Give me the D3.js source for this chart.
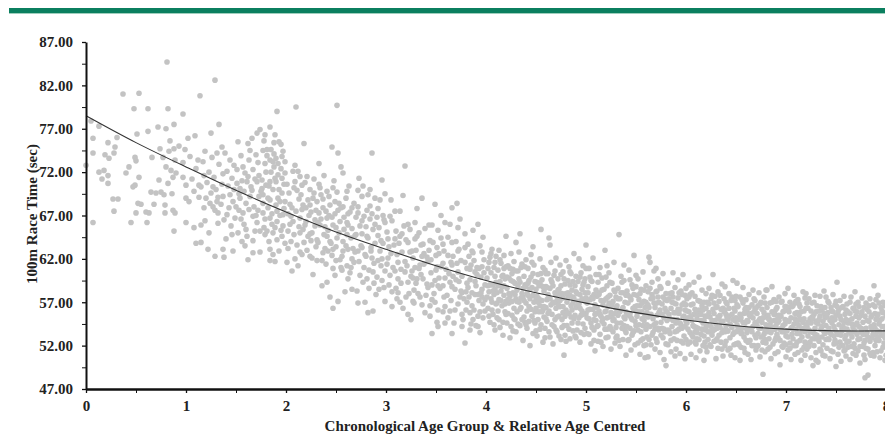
<!DOCTYPE html>
<html lang="en">
<head>
<meta charset="utf-8" />
<title>100m Race Time by Age</title>
<style>
  body { margin: 0; background: #fff; }
  svg { display: block; }
  .axis text { font-family: "Liberation Serif", "Times New Roman", serif; font-weight: bold; font-size: 15px; fill: #222; }
  .axis path, .axis line { stroke: #111; }
  .title { font-family: "Liberation Serif", "Times New Roman", serif; font-weight: bold; font-size: 15px; fill: #222; }
</style>
</head>
<body>
<svg width="885" height="434"></svg>
<script src="https://d3js.org/d3.v7.min.js"></script>
<script>
const yTicks = [47, 52, 57, 62, 67, 72, 77, 82, 87];
const yMinorTicks = [49.5, 54.5, 59.5, 64.5, 69.5, 74.5, 79.5, 84.5];
const xTicks = [0, 1, 2, 3, 4, 5, 6, 7, 8];
const xMinorTicks = [0.5, 1.5, 2.5, 3.5, 4.5, 5.5, 6.5, 7.5];

// fitted curve
const fitX = [0, 0.5, 1, 1.5, 2, 2.5, 3, 3.5, 4, 4.5, 5, 5.5, 6, 6.5, 7, 7.5, 8];
const fitY = [78.5, 75.4, 72.6, 69.9, 67.4, 65.1, 63.1, 61.2, 59.5, 58.1, 56.9, 55.8, 54.95, 54.3, 53.9, 53.7, 53.7];

// [age, time] per chronological age group
const age0 = [[0.00,72.8],[0.05,77.9],[0.07,75.9],[0.07,74.2],[0.07,66.2],[0.13,77.3],[0.13,72.0],[0.16,71.2],[0.18,72.2],[0.19,74.0],[0.22,75.4],[0.22,71.6],[0.22,70.7],[0.23,73.6],[0.27,68.9],[0.28,74.2],[0.28,67.5],[0.29,74.9],[0.31,76.0],[0.32,68.9],[0.37,81.0],[0.40,71.9],[0.43,72.6],[0.45,66.2],[0.47,70.3],[0.48,79.3],[0.49,73.7],[0.49,70.5],[0.50,73.3],[0.50,67.3],[0.51,76.4],[0.52,68.4],[0.53,81.1],[0.53,71.4],[0.55,68.3],[0.60,67.4],[0.61,66.2],[0.62,79.3],[0.62,76.7],[0.63,67.3],[0.65,69.7],[0.66,73.7],[0.68,68.3],[0.70,69.6],[0.72,77.2],[0.73,71.1],[0.74,74.7],[0.75,69.7],[0.77,73.7],[0.78,69.4],[0.79,68.2],[0.79,67.3],[0.80,77.0],[0.80,72.6],[0.81,84.7],[0.82,79.3],[0.82,70.7],[0.83,74.4],[0.84,75.6],[0.85,72.2],[0.86,69.5],[0.87,71.4],[0.87,67.6],[0.88,77.5],[0.88,74.7],[0.88,65.2],[0.89,73.4],[0.89,67.3],[0.90,71.9],[0.93,75.0],[0.97,78.7],[0.97,73.1],[0.97,71.4],[0.99,74.6]];

const age1 = [[1.29,82.6],[1.14,80.8],[1.02,75.9],[1.09,76.2],[1.25,76.5],[1.33,77.5],[1.12,73.4],[1.17,73.2],[1.00,70.5],[1.13,70.5],[1.15,70.3],[1.23,72.0],[1.28,71.4],[1.27,70.3],[1.00,69.0],[1.03,68.6],[1.13,69.1],[1.20,69.0],[1.24,68.4],[1.27,68.0],[1.32,69.1],[1.18,67.9],[1.29,67.6],[1.32,67.3],[1.00,66.2],[1.08,65.6],[1.15,65.9],[1.19,66.4],[1.23,65.0],[1.32,66.1],[1.10,63.8],[1.15,63.9],[1.22,63.1],[1.29,62.3],[1.25,69.6],[1.30,70.0],[1.31,68.6],[1.21,70.8],[1.06,71.2],[1.10,72.4],[1.04,73.8],[1.19,74.4],[1.33,72.9],[1.31,74.2],
[1.74,76.9],[1.71,76.5],[1.91,79.0],[1.89,76.3],[1.93,75.5],[1.88,75.4],[1.95,75.2],[1.52,75.5],[1.62,75.3],[1.39,74.2],[1.44,73.4],[1.77,74.5],[1.81,73.9],[1.84,73.4],[1.79,73.0],[1.87,73.2],[1.96,73.8],[1.99,73.2],[1.59,71.9],[1.67,72.3],[1.41,72.1],[1.37,71.8],[1.89,71.3],[1.92,71.7],[1.84,70.9],[1.51,70.7],[1.54,70.1],[1.61,70.9],[1.71,70.9],[1.76,70.1],[1.37,69.2],[1.44,69.4],[1.47,68.6],[1.54,69.0],[1.64,69.2],[1.77,69.4],[1.84,68.8],[1.92,69.0],[1.99,68.6],[1.41,67.1],[1.49,66.7],[1.57,67.3],[1.67,66.9],[1.77,67.3],[1.84,66.7],[1.91,66.3],[1.97,67.1],[1.46,64.8],[1.52,65.0],[1.61,64.6],[1.69,65.2],[1.79,64.8],[1.87,65.0],[1.96,64.6],[1.37,63.1],[1.47,62.9],[1.59,63.5],[1.67,62.7],[1.84,63.1],[1.87,62.5],[1.84,61.8],[1.89,61.7],
[1.42,70.4],[1.46,71.3],[1.50,68.0],[1.53,67.6],[1.56,71.0],[1.58,66.0],[1.60,68.4],[1.63,73.4],[1.65,70.3],[1.68,68.0],[1.70,74.0],[1.72,67.6],[1.73,71.6],[1.75,69.8],[1.78,65.6],[1.80,72.0],[1.82,67.9],[1.83,70.4],[1.85,74.6],[1.86,66.0],[1.88,72.6],[1.90,68.2],[1.91,64.2],[1.93,70.0],[1.94,67.0],[1.95,72.4],[1.97,65.8],[1.98,70.6],[1.99,63.8],[1.62,61.9],[1.74,62.8],[1.56,64.0],[1.45,65.8],[1.38,66.5],[1.40,64.3],[1.35,68.3],[1.36,70.6],[1.48,72.8],[1.55,73.9],[1.66,75.9],[1.79,76.3],[1.84,77.2],[1.90,73.6],[1.96,69.6],[1.71,66.2],[1.81,65.2],[1.93,62.9],
[1.51,72.3],[1.53,69.5],[1.55,66.6],[1.57,72.6],[1.58,69.8],[1.6,65.4],[1.62,71.5],[1.63,67.7],[1.64,74.5],[1.66,69.9],[1.67,64.1],[1.69,71.2],[1.7,67.0],[1.72,73.1],[1.73,69.2],[1.74,65.2],[1.76,71.1],[1.77,68.4],[1.78,75.6],[1.79,66.6],[1.8,70.5],[1.81,74.6],[1.82,69.0],[1.83,64.0],[1.85,72.0],[1.86,67.2],[1.87,70.0],[1.88,74.1],[1.89,65.6],[1.9,70.9],[1.91,67.5],[1.92,73.0],[1.94,68.6],[1.95,65.3],[1.96,71.3],[1.97,74.4],[1.98,67.8],[1.99,71.9],[1.26,73.7],[1.36,74.9],[1.43,67.9],[1.48,70.0],[1.18,71.6],[1.08,69.8],[1.38,62.2]];

const age2 = [[2.10,79.5],[2.51,79.7],[2.46,74.9],[2.52,74.2],[2.57,71.9],[2.12,72.1],[2.14,71.5],[2.09,70.9],[2.24,70.0],[2.34,70.2],[2.41,69.8],[2.47,70.2],[2.61,69.8],[2.06,67.9],[2.16,67.7],[2.24,68.2],[2.31,68.6],[2.37,67.9],[2.44,68.2],[2.49,68.6],[2.57,68.0],[2.66,67.9],[2.07,66.3],[2.14,66.7],[2.19,65.9],[2.29,66.5],[2.34,65.9],[2.41,66.7],[2.47,65.9],[2.54,66.3],[2.62,65.9],[2.02,65.2],[2.14,65.0],[2.22,64.6],[2.31,64.2],[2.41,64.6],[2.51,64.4],[2.61,64.8],[2.01,61.6],[2.09,62.0],[2.16,62.5],[2.24,62.3],[2.31,61.8],[2.37,62.7],[2.47,63.1],[2.56,62.3],[2.66,62.0],[2.41,59.3],[2.49,60.1],[2.56,60.7],[2.62,59.7],[2.66,58.5],[2.47,56.3],[2.52,57.1],
[2.03,69.6],[2.05,64.0],[2.08,70.2],[2.11,63.6],[2.13,68.9],[2.17,65.4],[2.19,70.8],[2.21,63.0],[2.23,67.0],[2.26,65.0],[2.28,71.2],[2.30,63.4],[2.33,67.3],[2.35,69.4],[2.38,64.8],[2.40,61.4],[2.43,67.0],[2.45,63.8],[2.48,71.0],[2.50,65.6],[2.53,68.4],[2.55,61.0],[2.58,66.8],[2.60,63.5],[2.63,70.4],[2.65,64.4],[2.68,61.6],[2.70,66.8],[2.06,60.6],[2.27,60.2],[2.36,58.9],[2.59,58.2],[2.44,57.6],[2.64,60.4],[2.18,75.3],[2.33,73.0],[2.09,72.8],[2.55,72.6],[2.38,71.6],[2.02,67.2],[2.12,61.2],
[2.86,74.2],[2.96,71.1],[2.72,69.9],[2.77,70.4],[2.84,70.0],[2.76,69.2],[2.82,69.4],[2.89,69.0],[2.94,68.8],[2.72,68.0],[2.81,67.6],[2.86,67.2],[2.92,67.8],[2.97,67.0],[2.76,66.4],[2.84,66.6],[2.89,66.0],[2.99,66.2],[2.69,64.7],[2.76,64.9],[2.82,64.4],[2.92,64.7],[2.72,62.9],[2.79,62.5],[2.86,62.1],[2.94,62.9],[2.74,60.1],[2.81,59.7],[2.87,60.5],[2.96,59.5],[2.72,56.9],[2.82,55.8],[2.87,56.0],[2.99,57.1],
[2.75,63.5],[2.78,61.0],[2.80,65.7],[2.83,58.6],[2.85,63.3],[2.88,61.5],[2.90,57.9],[2.93,65.6],[2.95,61.2],[2.98,58.7],[2.71,58.3],[2.79,57.0],[2.91,59.9],[2.97,63.8],[2.73,71.3],[2.99,69.5],
[2.04,66.0],[2.15,69.4],[2.20,67.9],[2.25,64.1],[2.32,66.2],[2.39,63.2],[2.42,65.3],[2.46,62.4],[2.52,67.6],[2.57,64.0],[2.62,67.2],[2.67,63.2],[2.27,69.0],[2.50,61.8],[2.61,61.2],
[2.01,70.6],[2.02,63.2],[2.04,68.3],[2.05,66.9],[2.07,72.1],[2.08,64.8],[2.1,67.5],[2.11,69.9],[2.13,65.7],[2.14,62.8],[2.16,70.5],[2.17,68.2],[2.18,63.9],[2.2,66.3],[2.21,71.5],[2.22,68.8],[2.24,64.9],[2.25,67.4],[2.26,62.1],[2.28,69.6],[2.29,65.8],[2.3,67.6],[2.32,63.9],[2.33,70.6],[2.35,66.6],[2.36,61.8],[2.37,68.9],[2.39,65.7],[2.4,67.5],[2.42,62.9],[2.43,69.2],[2.44,64.0],[2.46,66.8],[2.47,60.9],[2.49,67.2],[2.5,63.4],[2.51,69.7],[2.53,65.0],[2.54,61.9],[2.55,67.9],[2.57,62.9],[2.58,65.4],[2.6,69.0],[2.61,66.2],[2.62,63.1],[2.64,67.4],[2.65,61.0],[2.66,65.5],[2.68,68.4],[2.69,62.8],[2.7,64.8],[2.72,67.3],[2.73,61.7],[2.74,65.8],[2.76,63.3],[2.77,59.3],[2.78,66.9],[2.8,62.3],[2.81,64.6],[2.83,60.7],[2.84,68.1],[2.85,62.9],[2.87,65.4],[2.88,59.2],[2.89,63.8],[2.91,66.8],[2.92,61.8],[2.93,58.5],[2.95,64.1],[2.96,62.0],[2.98,66.5],[2.99,60.6]];

const age3 = [[3.19,72.7],[3.49,68.3],[3.71,68.4],[3.66,67.9],[3.31,67.8],[3.09,67.5],[3.14,67.5],[3.06,66.4],[3.22,66.0],[3.29,66.2],[3.39,65.5],[3.46,65.9],[3.52,65.3],[3.59,66.2],[3.64,66.0],[3.72,65.6],[3.79,64.9],[3.87,65.3],[3.92,66.0],[3.97,64.5],[3.01,65.1],[3.09,64.3],[3.16,64.9],[3.22,63.9],[3.29,64.3],[3.37,63.7],[3.44,64.1],[3.51,63.3],[3.57,63.7],[3.66,63.9],[3.72,62.9],[3.79,63.3],[3.86,62.9],[3.94,63.5],[3.02,62.1],[3.11,62.5],[3.19,61.7],[3.27,62.1],[3.34,61.3],[3.42,61.7],[3.51,61.1],[3.57,61.5],[3.66,61.3],[3.72,60.5],[3.81,60.9],[3.89,60.5],[3.96,61.1],[3.04,60.1],[3.12,59.7],[3.22,59.3],[3.31,59.7],[3.41,59.1],[3.49,59.5],[3.57,58.9],[3.64,59.3],[3.69,58.5],[3.76,58.1],[3.82,58.7],[3.89,57.9],[3.96,58.5],[3.06,56.5],[3.12,58.1],[3.22,55.6],[3.27,57.1],[3.36,56.7],[3.46,57.3],[3.52,56.1],[3.59,56.5],[3.69,56.1],[3.76,55.6],[3.84,55.8],[3.92,55.4],[3.99,56.0],[3.46,53.4],[3.52,54.2],[3.59,54.6],[3.66,53.4],[3.76,54.2],[3.84,53.8],[3.92,54.2],[3.79,52.3],
[3.81,57.0],[3.84,59.6],[3.86,56.6],[3.88,61.8],[3.90,58.9],[3.93,57.2],[3.95,59.9],[3.97,56.8],[3.99,59.0],[3.83,62.3],[3.87,55.0],[3.91,60.2],[3.94,55.9],[3.98,61.9],[3.85,54.5],[3.80,58.2],[3.96,57.6],[3.03,63.4],[3.07,61.0],[3.10,58.6],[3.13,63.8],[3.15,60.8],[3.18,65.8],[3.20,57.6],[3.24,62.8],[3.26,60.6],[3.28,58.4],[3.30,63.0],[3.33,65.0],[3.35,60.2],[3.38,62.6],[3.40,57.8],[3.43,63.0],[3.45,60.4],[3.48,58.0],[3.50,62.4],[3.53,59.8],[3.55,64.4],[3.58,57.6],[3.60,60.8],[3.62,62.4],[3.65,57.2],[3.67,60.0],[3.70,64.0],[3.73,59.4],[3.75,61.8],[3.78,57.4],[3.05,68.8],[3.17,69.3],[3.36,69.0],[3.55,67.0],[3.25,55.0],[3.44,55.4],[3.62,55.2],[3.74,66.6],[3.14,57.0],[3.32,58.0],
[3.01,61.4],[3.02,64.3],[3.03,59.0],[3.04,66.9],[3.05,62.6],[3.06,58.2],[3.08,63.6],[3.09,60.6],[3.1,65.2],[3.11,57.4],[3.12,61.6],[3.14,64.6],[3.15,59.2],[3.16,62.8],[3.17,56.3],[3.19,60.5],[3.2,64.2],[3.21,61.2],[3.23,58.0],[3.24,65.4],[3.25,60.0],[3.26,62.9],[3.28,56.9],[3.29,61.0],[3.3,59.2],[3.31,64.6],[3.33,60.9],[3.34,57.6],[3.35,63.6],[3.37,59.7],[3.38,61.4],[3.39,55.8],[3.41,62.2],[3.42,58.7],[3.43,65.9],[3.45,61.9],[3.46,59.0],[3.47,63.9],[3.49,57.0],[3.5,60.7],[3.51,54.7],[3.53,62.6],[3.54,58.6],[3.55,61.1],[3.57,55.9],[3.58,62.9],[3.59,59.8],[3.61,57.8],[3.62,64.5],[3.63,60.3],[3.64,56.0],[3.66,58.8],[3.67,62.3],[3.68,54.6],[3.7,59.6],[3.71,61.5],[3.72,56.8],[3.73,63.1],[3.75,58.3],[3.76,60.0],[3.77,55.0],[3.79,61.6],[3.8,56.1],[3.81,59.2],[3.82,63.7],[3.83,57.6],[3.84,60.8],[3.86,58.1],[3.87,62.7],[3.88,56.1],[3.89,59.4],[3.9,54.3],[3.91,61.0],[3.92,57.9],[3.93,60.9],[3.94,53.5],[3.95,58.1],[3.96,62.8],[3.97,55.2],[3.98,60.4],[3.99,57.3],[3.85,61.3],[3.74,57.6],[3.65,61.6],[3.52,58.9],[3.44,56.6],[3.36,62.3],[3.27,59.8]];

const age4 = [[4.01,59.8],[4.02,56.3],[4.03,61.6],[4.03,58.2],[4.04,54.7],[4.05,60.4],[4.05,57.4],[4.06,63.1],[4.07,59.0],[4.07,55.6],[4.08,61.0],[4.08,57.9],[4.09,53.8],[4.09,60.0],[4.1,56.8],[4.1,62.3],[4.02,58.9],[4.06,57.0],[4.04,62.2],[4.09,58.5],
[4.11,58.1],[4.11,55.2],[4.12,60.7],[4.13,57.3],[4.13,63.0],[4.14,59.4],[4.14,54.1],[4.15,61.5],[4.16,56.6],[4.16,58.8],[4.17,60.1],[4.17,53.2],[4.18,57.8],[4.18,62.4],[4.19,55.9],[4.19,59.7],[4.2,57.1],[4.2,64.6],[4.12,56.0],[4.15,58.3],[4.18,60.9],
[4.21,58.6],[4.21,54.6],[4.22,61.2],[4.23,56.9],[4.23,59.8],[4.24,52.9],[4.24,57.7],[4.25,62.6],[4.26,55.5],[4.26,60.3],[4.27,58.1],[4.27,53.7],[4.28,61.7],[4.28,56.3],[4.29,59.2],[4.3,57.4],[4.3,63.9],[4.22,57.3],[4.25,59.5],[4.29,55.0],[4.27,60.8],
[4.31,58.4],[4.31,55.9],[4.32,60.6],[4.33,57.0],[4.33,62.8],[4.34,54.3],[4.34,59.3],[4.35,56.4],[4.36,61.4],[4.36,58.0],[4.37,52.6],[4.37,57.6],[4.38,60.0],[4.38,55.3],[4.39,59.0],[4.4,56.9],[4.4,61.9],[4.32,58.9],[4.35,57.5],[4.39,54.7],[4.34,64.9],
[4.41,58.0],[4.41,54.0],[4.42,60.9],[4.43,56.5],[4.43,59.5],[4.44,52.0],[4.44,57.4],[4.45,62.5],[4.46,55.4],[4.46,58.7],[4.47,60.3],[4.47,53.4],[4.48,57.0],[4.48,61.3],[4.49,55.9],[4.5,58.5],[4.5,56.3],[4.42,57.8],[4.45,59.9],[4.49,54.6],[4.47,63.4],
[4.51,57.7],[4.51,53.1],[4.52,60.2],[4.53,55.9],[4.53,58.9],[4.54,62.0],[4.54,56.6],[4.55,54.4],[4.56,59.6],[4.56,57.2],[4.57,61.0],[4.57,52.4],[4.58,58.3],[4.58,55.3],[4.59,60.7],[4.6,56.4],[4.6,58.8],[4.52,57.0],[4.55,65.4],[4.59,54.0],[4.54,59.2],[4.57,56.1],
[4.61,57.3],[4.61,54.8],[4.62,60.3],[4.63,56.0],[4.63,64.4],[4.64,58.6],[4.64,53.0],[4.65,61.6],[4.66,55.6],[4.66,59.3],[4.67,57.0],[4.67,52.2],[4.68,60.1],[4.68,54.2],[4.69,58.1],[4.7,56.3],[4.7,62.1],[4.62,57.9],[4.65,56.7],[4.69,55.0],[4.64,63.6],
[4.71,57.2],[4.71,53.6],[4.72,59.7],[4.73,55.4],[4.73,58.5],[4.74,61.3],[4.74,56.5],[4.75,52.7],[4.76,58.0],[4.76,55.0],[4.77,60.5],[4.77,57.5],[4.78,50.9],[4.78,54.3],[4.79,59.1],[4.8,56.1],[4.8,61.8],[4.72,56.8],[4.75,58.9],[4.79,53.2],[4.73,57.9],[4.77,55.8],
[4.81,57.0],[4.81,54.3],[4.82,59.5],[4.83,55.7],[4.83,61.1],[4.84,57.8],[4.84,52.8],[4.85,60.3],[4.86,56.1],[4.86,58.4],[4.87,53.7],[4.87,56.9],[4.88,62.6],[4.88,55.1],[4.89,58.9],[4.9,56.4],[4.9,60.0],[4.82,57.5],[4.85,55.3],[4.89,53.1],[4.84,59.0],[4.87,57.6],
[4.91,56.6],[4.91,53.8],[4.92,59.4],[4.93,55.2],[4.93,62.0],[4.94,57.9],[4.94,52.4],[4.95,60.4],[4.96,56.0],[4.96,58.5],[4.97,54.5],[4.97,61.2],[4.98,57.2],[4.98,53.3],[4.99,59.7],[5.0,55.7],[5.0,63.6],[4.92,57.1],[4.95,55.5],[4.99,58.1],[4.94,56.3],[4.97,59.0],
[4.01,57.6],[4.02,60.9],[4.03,55.4],[4.04,59.0],[4.05,62.6],[4.06,56.1],[4.07,58.3],[4.08,54.4],[4.09,61.6],[4.1,59.3],[4.11,56.9],[4.12,58.9],[4.13,55.0],[4.14,61.9],[4.15,57.2],[4.16,60.0],[4.17,54.7],[4.18,58.9],[4.19,56.8],[4.2,61.1],[4.2,55.6],
[4.21,59.9],[4.22,55.7],[4.23,58.0],[4.24,60.9],[4.25,54.2],[4.26,57.1],[4.27,59.4],[4.28,55.1],[4.29,57.9],[4.3,60.6],[4.3,53.6],[4.31,57.1],[4.32,54.5],[4.33,59.7],[4.34,56.2],[4.35,61.0],[4.36,55.0],[4.37,58.6],[4.38,57.2],[4.39,61.1],[4.4,54.4],[4.4,58.8],
[4.41,56.0],[4.42,59.2],[4.43,54.8],[4.44,58.5],[4.45,56.2],[4.46,61.6],[4.47,57.8],[4.48,54.9],[4.49,59.4],[4.5,57.4],[4.5,53.7],[4.51,59.3],[4.52,55.0],[4.53,57.4],[4.54,53.9],[4.55,60.3],[4.56,55.9],[4.57,58.8],[4.58,56.5],[4.59,52.9],[4.6,60.3],[4.6,55.1],
[4.61,58.7],[4.62,55.7],[4.63,53.6],[4.64,57.4],[4.65,59.6],[4.66,54.4],[4.67,58.9],[4.68,56.9],[4.69,60.6],[4.7,53.8],[4.7,57.8],[4.71,55.3],[4.72,58.4],[4.73,53.1],[4.74,57.2],[4.75,60.2],[4.76,54.1],[4.77,56.5],[4.78,59.7],[4.79,55.4],[4.8,58.0],[4.8,52.5],
[4.81,55.8],[4.82,58.1],[4.83,53.9],[4.84,60.5],[4.85,56.6],[4.86,54.6],[4.87,59.4],[4.88,57.4],[4.89,55.5],[4.9,58.2],[4.9,52.9],[4.91,58.0],[4.92,54.6],[4.93,56.8],[4.94,59.9],[4.95,53.5],[4.96,57.4],[4.97,55.6],[4.98,59.3],[4.99,54.0],[5.0,57.5],[5.0,60.9]];

const age5 = [[5.01,56.9],[5.01,53.4],[5.02,58.8],[5.03,55.1],[5.03,60.9],[5.04,57.3],[5.05,52.2],[5.05,54.6],[5.06,59.4],[5.07,56.2],[5.07,62.1],[5.08,53.8],[5.08,57.9],[5.09,55.6],[5.09,51.4],[5.1,58.4],[5.1,54.9],[5.02,56.1],[5.04,59.9],[5.06,57.6],[5.08,55.0],
[5.11,57.7],[5.11,54.2],[5.12,52.5],[5.12,59.3],[5.13,56.0],[5.14,61.0],[5.14,53.3],[5.15,57.2],[5.15,55.4],[5.16,59.8],[5.17,51.9],[5.17,56.7],[5.18,54.5],[5.18,58.5],[5.19,63.0],[5.19,55.9],[5.2,52.9],[5.2,57.4],[5.13,58.1],[5.16,54.8],[5.13,60.2],
[5.21,55.2],[5.21,58.9],[5.22,53.0],[5.22,56.5],[5.23,60.4],[5.24,54.2],[5.24,57.8],[5.25,51.6],[5.25,55.8],[5.26,59.2],[5.27,53.6],[5.27,57.1],[5.28,61.6],[5.28,55.0],[5.29,52.3],[5.29,58.2],[5.3,56.3],[5.3,54.1],[5.23,56.9],[5.26,55.4],[5.21,61.2],
[5.31,56.6],[5.31,53.1],[5.32,58.6],[5.32,55.5],[5.33,64.8],[5.34,51.9],[5.34,57.4],[5.35,54.6],[5.35,60.0],[5.36,56.2],[5.37,52.7],[5.37,58.1],[5.38,55.3],[5.38,61.3],[5.39,53.8],[5.39,57.0],[5.4,55.9],[5.4,50.9],[5.33,56.0],[5.36,59.3],[5.38,54.3],
[5.41,55.6],[5.41,58.3],[5.42,52.6],[5.42,56.9],[5.43,60.7],[5.44,54.0],[5.44,57.6],[5.45,55.2],[5.45,51.5],[5.46,59.0],[5.47,56.3],[5.47,53.5],[5.48,62.4],[5.48,57.9],[5.49,54.8],[5.49,52.1],[5.5,56.0],[5.5,58.8],[5.43,55.5],[5.46,53.2],[5.44,59.6],
[5.51,55.4],[5.51,57.8],[5.52,52.3],[5.52,59.7],[5.53,54.4],[5.54,56.6],[5.54,51.0],[5.55,58.5],[5.55,53.6],[5.56,55.9],[5.57,60.5],[5.57,52.8],[5.58,57.1],[5.58,54.9],[5.59,50.6],[5.59,56.4],[5.6,58.9],[5.6,53.9],[5.53,57.3],[5.56,55.1],[5.58,52.0],
[5.61,55.8],[5.61,53.0],[5.62,58.2],[5.62,50.7],[5.63,62.2],[5.63,56.4],[5.64,61.6],[5.64,54.2],[5.65,57.4],[5.65,52.1],[5.66,59.3],[5.67,55.1],[5.67,53.5],[5.68,60.6],[5.68,56.9],[5.69,51.6],[5.7,60.9],[5.7,54.6],[5.62,55.3],[5.66,57.9],[5.69,53.9],
[5.71,55.5],[5.71,52.4],[5.72,57.6],[5.72,59.7],[5.73,53.8],[5.74,56.1],[5.74,51.2],[5.75,58.6],[5.75,54.7],[5.76,56.8],[5.77,52.9],[5.77,60.3],[5.78,55.2],[5.78,50.4],[5.79,57.3],[5.79,53.6],[5.8,49.7],[5.8,55.9],[5.73,57.0],[5.76,54.0],[5.71,58.3],
[5.81,54.9],[5.81,57.2],[5.82,52.1],[5.82,59.2],[5.83,55.6],[5.84,53.4],[5.84,58.0],[5.85,51.3],[5.85,56.3],[5.86,54.2],[5.87,60.4],[5.87,57.6],[5.88,52.8],[5.88,55.8],[5.89,50.8],[5.89,58.7],[5.9,54.6],[5.9,56.8],[5.83,53.7],[5.86,57.0],[5.88,55.0],
[5.91,55.0],[5.91,52.6],[5.92,57.5],[5.92,59.6],[5.93,53.9],[5.94,56.2],[5.94,51.1],[5.95,58.3],[5.95,54.4],[5.96,56.7],[5.97,52.3],[5.97,60.2],[5.98,55.4],[5.98,53.1],[5.99,57.8],[5.99,50.5],[6.0,54.8],[6.0,58.6],[5.93,55.7],[5.96,54.0],[5.99,56.1],
[5.01,55.2],[5.02,58.1],[5.03,53.3],[5.04,56.2],[5.05,59.5],[5.06,54.1],[5.07,57.4],[5.08,52.6],[5.09,56.7],[5.1,60.2],[5.1,55.7],[5.11,56.4],[5.12,54.3],[5.13,57.9],[5.14,55.6],[5.15,52.4],[5.16,58.4],[5.17,55.1],[5.18,57.2],[5.19,53.9],[5.2,56.0],[5.2,59.9],
[5.21,53.9],[5.22,57.6],[5.23,55.3],[5.24,59.3],[5.25,53.9],[5.26,56.7],[5.27,54.9],[5.28,58.4],[5.29,55.7],[5.3,52.9],[5.3,57.6],[5.31,54.6],[5.32,57.4],[5.33,52.6],[5.34,55.9],[5.35,58.1],[5.36,54.0],[5.37,56.4],[5.38,59.5],[5.39,55.1],[5.4,53.5],[5.4,57.8],
[5.41,54.2],[5.42,57.8],[5.43,52.7],[5.44,55.7],[5.45,57.3],[5.46,55.0],[5.47,58.6],[5.48,53.7],[5.49,56.5],[5.5,54.3],[5.5,60.1],[5.51,56.6],[5.52,53.8],[5.53,55.9],[5.54,58.0],[5.55,52.6],[5.56,56.9],[5.57,54.3],[5.58,58.4],[5.59,55.5],[5.6,52.1],[5.6,57.0],
[5.61,54.4],[5.62,56.7],[5.63,52.7],[5.64,58.6],[5.65,55.6],[5.66,53.2],[5.67,57.5],[5.68,54.4],[5.69,56.4],[5.7,52.8],[5.7,58.2],[5.71,56.9],[5.72,54.0],[5.73,55.8],[5.74,58.8],[5.75,53.2],[5.76,55.6],[5.77,57.6],[5.78,53.9],[5.79,56.3],[5.8,52.2],[5.8,58.0],
[5.81,55.9],[5.82,53.8],[5.83,57.4],[5.84,55.1],[5.85,52.6],[5.86,58.1],[5.87,54.9],[5.88,56.9],[5.89,53.6],[5.9,55.8],[5.9,51.6],[5.91,53.7],[5.92,56.2],[5.93,58.1],[5.94,54.6],[5.95,52.5],[5.96,57.9],[5.97,55.3],[5.98,56.9],[5.99,54.2],[6.0,52.7],[6.0,56.7]];

const age6 = [[6.01,54.6],[6.01,57.4],[6.02,52.2],[6.03,55.9],[6.03,59.0],[6.04,53.5],[6.05,56.7],[6.05,51.0],[6.06,54.9],[6.06,58.1],[6.07,53.0],[6.08,55.6],[6.08,59.3],[6.09,52.4],[6.09,56.2],[6.1,54.1],[6.1,50.6],[6.02,55.2],[6.04,57.9],[6.07,54.3],[6.09,53.6],
[6.11,55.1],[6.11,52.8],[6.12,57.2],[6.12,54.0],[6.13,59.9],[6.14,51.4],[6.14,55.8],[6.15,53.3],[6.16,56.6],[6.16,58.4],[6.17,52.0],[6.17,54.6],[6.18,57.0],[6.18,50.3],[6.19,55.4],[6.19,53.8],[6.2,58.0],[6.2,51.8],[6.13,56.1],[6.15,54.9],[6.18,53.1],
[6.21,51.3],[6.21,54.4],[6.22,56.9],[6.22,52.7],[6.23,58.6],[6.24,55.3],[6.24,53.6],[6.25,57.4],[6.25,51.9],[6.26,54.9],[6.27,56.2],[6.27,60.2],[6.28,52.5],[6.28,55.7],[6.29,53.9],[6.29,57.7],[6.3,50.5],[6.3,54.5],[6.23,55.8],[6.26,53.2],[6.21,57.0],
[6.31,54.0],[6.31,56.5],[6.32,51.7],[6.32,58.2],[6.33,53.2],[6.34,55.5],[6.34,57.8],[6.35,52.4],[6.35,54.7],[6.36,59.1],[6.37,56.3],[6.37,50.8],[6.38,53.8],[6.38,55.9],[6.39,58.8],[6.39,52.0],[6.4,54.3],[6.4,57.0],[6.33,55.1],[6.36,53.5],[6.39,56.1],
[6.41,53.7],[6.41,56.8],[6.42,51.5],[6.42,55.0],[6.43,58.0],[6.44,52.9],[6.44,54.5],[6.45,57.2],[6.45,50.9],[6.46,55.6],[6.47,53.3],[6.47,59.5],[6.48,56.3],[6.48,52.1],[6.49,50.6],[6.49,54.9],[6.5,57.7],[6.5,53.6],[6.43,55.4],[6.46,54.1],[6.49,56.0],
[6.51,59.2],[6.51,54.4],[6.52,52.3],[6.52,56.5],[6.53,53.7],[6.54,50.3],[6.54,57.6],[6.55,55.2],[6.55,51.8],[6.56,54.0],[6.57,56.9],[6.57,58.7],[6.58,53.0],[6.58,55.7],[6.59,51.2],[6.59,54.6],[6.6,57.3],[6.6,52.6],[6.53,55.0],[6.56,53.4],[6.59,56.2],
[6.61,53.5],[6.61,56.1],[6.62,51.0],[6.62,54.8],[6.63,57.9],[6.64,52.6],[6.64,55.4],[6.65,53.9],[6.65,50.4],[6.66,56.7],[6.67,58.4],[6.67,54.2],[6.68,52.0],[6.68,55.9],[6.69,53.2],[6.69,57.2],[6.7,51.5],[6.7,54.7],[6.63,55.6],[6.66,53.6],[6.69,56.3],
[6.71,54.3],[6.71,51.9],[6.72,56.6],[6.72,53.4],[6.73,58.1],[6.74,55.1],[6.74,50.7],[6.75,53.0],[6.75,57.0],[6.76,54.7],[6.77,48.7],[6.77,52.4],[6.78,55.8],[6.78,57.6],[6.79,53.7],[6.79,51.3],[6.8,55.3],[6.8,58.4],[6.73,54.0],[6.76,56.2],[6.79,52.7],
[6.81,53.9],[6.81,58.4],[6.82,51.6],[6.82,55.5],[6.83,52.8],[6.84,56.9],[6.84,54.4],[6.85,50.5],[6.85,53.5],[6.86,58.8],[6.86,55.9],[6.87,52.2],[6.88,54.9],[6.88,57.3],[6.89,51.1],[6.89,53.9],[6.9,56.2],[6.9,52.9],[6.83,55.0],[6.86,54.1],[6.89,55.6],
[6.91,53.3],[6.91,56.4],[6.92,51.3],[6.92,54.7],[6.93,57.6],[6.94,49.8],[6.94,52.6],[6.95,55.4],[6.95,53.9],[6.96,57.1],[6.97,51.8],[6.97,54.3],[6.98,56.0],[6.98,52.3],[6.99,58.0],[6.99,55.0],[7.0,53.1],[7.0,50.7],[6.93,54.9],[6.96,53.6],[6.99,56.5],
[6.01,56.0],[6.02,53.9],[6.03,57.6],[6.04,52.4],[6.05,55.4],[6.06,53.2],[6.07,56.8],[6.08,54.2],[6.09,57.7],[6.1,52.2],[6.1,55.7],[6.11,53.5],[6.12,55.6],[6.13,52.7],[6.14,57.1],[6.15,55.6],[6.16,53.9],[6.17,56.1],[6.18,54.9],[6.19,52.4],[6.2,56.3],[6.2,54.1],
[6.21,55.4],[6.22,53.6],[6.23,56.8],[6.24,52.1],[6.25,54.2],[6.26,57.8],[6.27,53.7],[6.28,56.9],[6.29,54.9],[6.3,52.6],[6.3,56.4],[6.31,52.8],[6.32,55.3],[6.33,57.1],[6.34,54.1],[6.35,56.2],[6.36,51.6],[6.37,54.8],[6.38,57.4],[6.39,53.6],[6.4,55.6],[6.4,52.5],
[6.41,55.2],[6.42,53.7],[6.43,56.3],[6.44,51.7],[6.45,54.3],[6.46,57.6],[6.47,55.0],[6.48,53.5],[6.49,57.2],[6.5,52.2],[6.5,55.2],[6.51,56.7],[6.52,54.1],[6.53,52.1],[6.54,55.6],[6.55,53.4],[6.56,57.3],[6.57,54.7],[6.58,51.7],[6.59,55.8],[6.6,54.0],[6.6,56.4],
[6.61,54.9],[6.62,52.4],[6.63,56.4],[6.64,53.9],[6.65,55.7],[6.66,52.0],[6.67,55.2],[6.68,57.4],[6.69,54.6],[6.7,52.9],[6.7,56.3],[6.71,55.7],[6.72,52.0],[6.73,54.9],[6.74,56.8],[6.75,54.0],[6.76,51.5],[6.77,55.2],[6.78,53.3],[6.79,56.9],[6.8,54.4],[6.8,52.3],
[6.81,56.4],[6.82,53.6],[6.83,55.1],[6.84,51.8],[6.85,54.8],[6.86,57.0],[6.87,53.9],[6.88,55.6],[6.89,52.6],[6.9,54.3],[6.9,57.1],[6.91,55.0],[6.92,52.9],[6.93,55.5],[6.94,53.9],[6.95,57.0],[6.96,51.9],[6.97,55.9],[6.98,53.6],[6.99,54.5],[7.0,56.5],[7.0,52.1]];

const age7 = [[7.01,53.7],[7.01,56.1],[7.02,58.6],[7.02,51.5],[7.03,54.8],[7.04,52.3],[7.04,57.0],[7.05,55.2],[7.05,50.4],[7.06,53.3],[7.07,56.6],[7.07,52.8],[7.08,54.5],[7.08,57.8],[7.09,51.0],[7.09,55.7],[7.1,53.9],[7.1,52.0],[7.03,55.9],[7.06,54.1],[7.09,56.9],
[7.11,53.4],[7.11,55.8],[7.12,51.2],[7.12,57.3],[7.13,54.3],[7.14,52.6],[7.14,56.5],[7.15,50.3],[7.15,55.0],[7.16,53.0],[7.17,58.2],[7.17,54.7],[7.18,51.8],[7.18,56.0],[7.19,53.6],[7.19,57.5],[7.2,52.2],[7.2,58.0],[7.13,55.5],[7.16,54.0],[7.19,50.9],
[7.21,54.2],[7.21,51.6],[7.22,56.3],[7.22,53.1],[7.23,57.4],[7.24,55.1],[7.24,52.4],[7.25,50.6],[7.25,54.6],[7.26,56.9],[7.27,49.7],[7.27,53.5],[7.28,55.6],[7.28,52.0],[7.29,57.8],[7.29,54.0],[7.3,51.2],[7.3,55.9],[7.23,53.8],[7.26,55.3],[7.29,52.8],
[7.31,53.2],[7.31,56.6],[7.32,50.1],[7.32,54.5],[7.33,52.5],[7.34,55.4],[7.34,57.7],[7.35,51.4],[7.35,53.9],[7.36,56.1],[7.37,52.1],[7.37,54.8],[7.38,58.3],[7.38,55.7],[7.39,50.8],[7.39,53.4],[7.4,57.6],[7.4,54.3],[7.33,56.0],[7.36,53.0],[7.39,55.2],
[7.41,53.6],[7.41,51.7],[7.42,55.8],[7.42,57.1],[7.43,52.7],[7.44,54.9],[7.44,50.5],[7.45,56.4],[7.45,53.3],[7.46,55.2],[7.47,51.3],[7.47,57.9],[7.48,54.2],[7.48,52.2],[7.49,56.7],[7.49,53.8],[7.5,49.6],[7.5,55.5],[7.43,54.0],[7.46,56.0],[7.49,52.6],
[7.51,59.3],[7.51,53.5],[7.52,55.9],[7.52,51.0],[7.53,54.4],[7.54,57.2],[7.54,52.4],[7.55,55.0],[7.55,50.2],[7.56,53.7],[7.57,56.5],[7.57,52.0],[7.58,54.7],[7.58,57.7],[7.59,51.5],[7.59,55.6],[7.6,53.2],[7.6,50.8],[7.53,56.2],[7.56,54.0],[7.59,52.8],
[7.61,53.9],[7.61,56.8],[7.62,51.8],[7.62,54.6],[7.63,52.5],[7.64,55.7],[7.64,50.4],[7.65,57.6],[7.65,53.4],[7.66,55.1],[7.67,51.1],[7.67,54.1],[7.68,56.3],[7.68,52.2],[7.69,58.2],[7.69,53.7],[7.7,55.4],[7.7,50.9],[7.63,54.9],[7.66,53.0],[7.69,56.0],
[7.71,53.3],[7.71,55.9],[7.72,51.4],[7.72,57.0],[7.73,54.2],[7.74,50.0],[7.74,52.8],[7.75,55.5],[7.75,53.6],[7.76,57.5],[7.77,51.9],[7.77,54.7],[7.78,56.4],[7.78,52.3],[7.79,48.3],[7.79,50.4],[7.8,54.0],[7.8,56.9],[7.73,55.2],[7.76,53.9],[7.79,52.6],
[7.81,53.5],[7.81,56.2],[7.82,48.6],[7.82,51.6],[7.83,54.8],[7.84,52.5],[7.84,57.4],[7.85,55.3],[7.85,50.9],[7.86,53.9],[7.87,56.7],[7.87,51.2],[7.88,58.9],[7.88,54.4],[7.89,52.0],[7.89,55.7],[7.9,53.2],[7.9,57.3],[7.83,55.9],[7.86,52.9],[7.89,54.0],
[7.91,53.7],[7.91,51.3],[7.92,55.6],[7.92,57.8],[7.93,52.6],[7.94,54.9],[7.94,50.6],[7.95,56.4],[7.95,53.2],[7.96,55.1],[7.97,51.8],[7.97,57.0],[7.98,54.2],[7.98,52.3],[7.99,56.6],[7.99,53.6],[8.0,55.4],[8.0,50.9],[7.93,54.5],[7.96,56.0],[7.99,52.9],
[7.01,54.9],[7.02,53.0],[7.03,56.4],[7.04,51.7],[7.05,54.0],[7.06,56.5],[7.07,53.9],[7.08,52.0],[7.09,55.1],[7.1,57.1],[7.1,54.6],[7.11,52.4],[7.12,54.9],[7.13,56.8],[7.14,53.4],[7.15,55.9],[7.16,51.5],[7.17,53.8],[7.18,55.1],[7.19,52.4],[7.2,56.3],[7.2,54.3],
[7.21,56.9],[7.22,54.7],[7.23,51.9],[7.24,53.6],[7.25,56.0],[7.26,52.8],[7.27,55.1],[7.28,57.0],[7.29,53.3],[7.3,54.7],[7.3,50.3],[7.31,54.8],[7.32,52.9],[7.33,55.0],[7.34,51.6],[7.35,56.5],[7.36,54.2],[7.37,50.9],[7.38,53.6],[7.39,56.4],[7.4,52.7],[7.4,55.6],
[7.41,55.3],[7.42,52.8],[7.43,56.9],[7.44,53.5],[7.45,51.4],[7.46,54.6],[7.47,55.9],[7.48,53.1],[7.49,55.0],[7.5,52.3],[7.5,57.1],[7.51,56.5],[7.52,53.3],[7.53,51.8],[7.54,55.4],[7.55,53.2],[7.56,56.4],[7.57,54.2],[7.58,51.4],[7.59,53.9],[7.6,56.1],[7.6,55.0],
[7.61,52.4],[7.62,55.9],[7.63,53.6],[7.64,57.0],[7.65,51.9],[7.66,54.5],[7.67,56.3],[7.68,53.6],[7.69,51.7],[7.7,54.4],[7.7,56.8],[7.71,54.6],[7.72,52.7],[7.73,56.5],[7.74,51.9],[7.75,54.0],[7.76,55.9],[7.77,53.3],[7.78,50.9],[7.79,55.4],[7.8,53.3],[7.8,51.7],
[7.81,54.9],[7.82,53.0],[7.83,56.6],[7.84,51.1],[7.85,54.2],[7.86,55.5],[7.87,53.3],[7.88,50.8],[7.89,56.5],[7.9,52.6],[7.9,55.0],[7.91,55.2],[7.92,52.9],[7.93,56.9],[7.94,53.6],[7.95,51.4],[7.96,54.2],[7.97,55.8],[7.98,53.1],[7.99,50.3],[8.0,54.0],[8.0,52.0]];

const width = 885;
const height = 434;
const margin = { left: 86, right: -1, top: 42, bottom: 45 };

const svg = d3.select("svg");

// green rule across the top
svg.append("rect").attr("x", 9).attr("y", 8).attr("width", width - 9).attr("height", 5).attr("fill", "#0b7f5f");
svg.append("rect").attr("x", 9).attr("y", 13).attr("width", width - 9).attr("height", 1).attr("fill", "#9fcfbd");

const x = d3.scaleLinear().domain([0, 8]).range([margin.left, width - margin.right]);
const y = d3.scaleLinear().domain([47, 87]).range([height - margin.bottom, margin.top]);

const points = [].concat(age0, age1, age2, age3, age4, age5, age6, age7);

svg.append("g")
  .selectAll("circle")
  .data(points)
  .join("circle")
  .attr("cx", (d) => x(d[0]))
  .attr("cy", (d) => y(d[1]))
  .attr("r", 2.8)
  .attr("fill", "#c3c3c3");

const line = d3.line()
  .x((d, i) => x(fitX[i]))
  .y((d) => y(d))
  .curve(d3.curveNatural);

svg.append("path")
  .datum(fitY)
  .attr("d", line)
  .attr("fill", "none")
  .attr("stroke", "#333")
  .attr("stroke-width", 1.1);

// y axis
const yAxis = svg.append("g")
  .attr("class", "axis")
  .attr("transform", `translate(${margin.left},0)`)
  .call(d3.axisLeft(y).tickValues(yTicks).tickFormat(d3.format(".2f")).tickSize(4).tickSizeOuter(0).tickPadding(9));
yAxis.select(".domain").attr("stroke-width", 2);
yAxis.selectAll(".tick line").attr("stroke-width", 1.3);

svg.append("g")
  .attr("class", "axis")
  .attr("transform", `translate(${margin.left},0)`)
  .call(d3.axisLeft(y).tickValues(yMinorTicks).tickFormat("").tickSize(4).tickSizeOuter(0))
  .call((g) => g.select(".domain").remove())
  .selectAll(".tick line").attr("stroke-width", 1).attr("stroke", "#555");

// x axis
const xAxis = svg.append("g")
  .attr("class", "axis")
  .attr("transform", `translate(0,${height - margin.bottom})`)
  .call(d3.axisBottom(x).tickValues(xTicks).tickFormat(d3.format("d")).tickSize(4).tickSizeOuter(0).tickPadding(7));
xAxis.select(".domain").attr("stroke-width", 2.4);
xAxis.selectAll(".tick line").attr("stroke-width", 1.3);

svg.append("g")
  .attr("class", "axis")
  .attr("transform", `translate(0,${height - margin.bottom})`)
  .call(d3.axisBottom(x).tickValues(xMinorTicks).tickFormat("").tickSize(4).tickSizeOuter(0))
  .call((g) => g.select(".domain").remove())
  .selectAll(".tick line").attr("stroke-width", 1).attr("stroke", "#555");

// titles
svg.append("text")
  .attr("class", "title")
  .attr("x", 485)
  .attr("y", 431)
  .attr("text-anchor", "middle")
  .text("Chronological Age Group & Relative Age Centred");

svg.append("text")
  .attr("class", "title")
  .attr("transform", "translate(37,214) rotate(-90)")
  .attr("text-anchor", "middle")
  .text("100m Race Time (sec)");
</script>
</body>
</html>
